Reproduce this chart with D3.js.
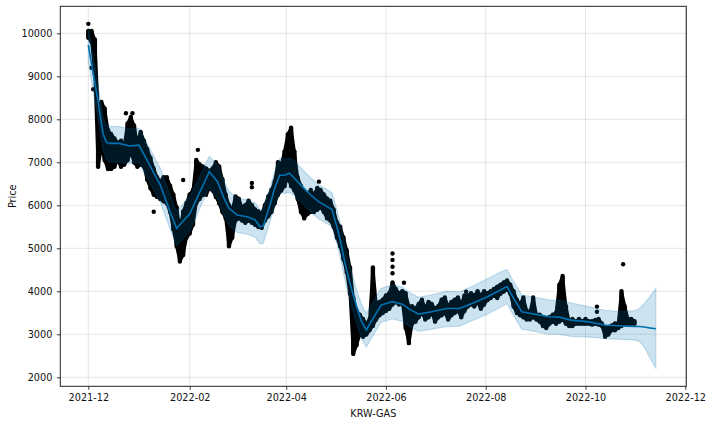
<!DOCTYPE html>
<html><head><meta charset="utf-8">
<script src="https://cdn.jsdelivr.net/npm/d3@7"></script>
<style>html,body{margin:0;padding:0;background:#fff;}svg{display:block;font-family:"DejaVu Sans",sans-serif;}</style>
</head><body>
<svg id="c" width="712" height="424"></svg>
<script>
// observed price ranges (every 2 days): low / high of hourly prices
const obsDate = ["2021-12-01","2021-12-03","2021-12-05","2021-12-07","2021-12-09","2021-12-11","2021-12-13","2021-12-15","2021-12-17","2021-12-19","2021-12-21","2021-12-23","2021-12-25","2021-12-27","2021-12-29","2021-12-31",
"2022-01-02","2022-01-04","2022-01-06","2022-01-08","2022-01-10","2022-01-12","2022-01-14","2022-01-16","2022-01-18","2022-01-20","2022-01-22","2022-01-24","2022-01-26","2022-01-28","2022-01-30",
"2022-02-01","2022-02-03","2022-02-05","2022-02-07","2022-02-09","2022-02-11","2022-02-13","2022-02-15","2022-02-17","2022-02-19","2022-02-21","2022-02-23","2022-02-25","2022-02-27",
"2022-03-01","2022-03-03","2022-03-05","2022-03-07","2022-03-09","2022-03-11","2022-03-13","2022-03-15","2022-03-17","2022-03-19","2022-03-21","2022-03-23","2022-03-25","2022-03-27","2022-03-29","2022-03-31",
"2022-04-02","2022-04-04","2022-04-06","2022-04-08","2022-04-10","2022-04-12","2022-04-14","2022-04-16","2022-04-18","2022-04-20","2022-04-22","2022-04-24","2022-04-26","2022-04-28","2022-04-30",
"2022-05-02","2022-05-04","2022-05-06","2022-05-08","2022-05-10","2022-05-12","2022-05-14","2022-05-16","2022-05-18","2022-05-20","2022-05-22","2022-05-24","2022-05-26","2022-05-28","2022-05-30",
"2022-06-01","2022-06-03","2022-06-05","2022-06-07","2022-06-09","2022-06-11","2022-06-13","2022-06-15","2022-06-17","2022-06-19","2022-06-21","2022-06-23","2022-06-25","2022-06-27","2022-06-29",
"2022-07-01","2022-07-03","2022-07-05","2022-07-07","2022-07-09","2022-07-11","2022-07-13","2022-07-15","2022-07-17","2022-07-19","2022-07-21","2022-07-23","2022-07-25","2022-07-27","2022-07-29","2022-07-31",
"2022-08-02","2022-08-04","2022-08-06","2022-08-08","2022-08-10","2022-08-12","2022-08-14","2022-08-16","2022-08-18","2022-08-20","2022-08-22","2022-08-24","2022-08-26","2022-08-28","2022-08-30",
"2022-09-01","2022-09-03","2022-09-05","2022-09-07","2022-09-09","2022-09-11","2022-09-13","2022-09-15","2022-09-17","2022-09-19","2022-09-21","2022-09-23","2022-09-25","2022-09-27","2022-09-29",
"2022-10-01","2022-10-03","2022-10-05","2022-10-07","2022-10-09","2022-10-11","2022-10-13","2022-10-15","2022-10-17","2022-10-19","2022-10-21","2022-10-23","2022-10-25","2022-10-27","2022-10-29","2022-10-31"];
const obsLow = [9850,9750,9000,6850,7300,7000,6800,6800,6850,7000,6850,6900,7000,7200,6950,6850,
6900,6850,6550,6350,6200,6150,6100,6050,6000,5800,5400,5000,4650,4800,5200,
5300,5500,6000,6100,6200,6200,6350,6300,6150,6000,5800,5650,5000,5200,
5600,5650,5600,5550,5600,5550,5500,5450,5430,5600,5700,5800,6000,6200,6300,6400,
6600,6400,6300,6100,5800,5650,5750,5800,5800,5850,5900,5800,5650,5600,5450,
5200,5000,4700,4400,3900,2500,2700,2950,2900,2950,3050,3150,3300,3400,3450,
3500,3550,3650,3700,3650,3700,3100,2750,3200,3250,3350,3450,3300,3350,3450,
3250,3350,3400,3450,3300,3400,3450,3500,3350,3500,3600,3650,3600,3700,3550,3650,
3750,3800,3850,3800,3900,3950,4000,3900,3600,3450,3400,3350,3300,3300,3350,
3300,3250,3150,3100,3200,3250,3200,3250,3300,3200,3150,3150,3200,3200,3200,
3200,3200,3180,3200,3180,3150,2900,2950,3050,3050,3100,3150,3200,3200,3200,3200];
const obsHigh = [10100,10100,9900,8300,8450,8300,7800,7700,7600,7500,7550,7450,7950,8100,7900,7500,
7750,7550,7350,7150,6900,6700,6600,6700,6700,6500,6300,6000,5500,5900,6100,
6300,6400,7100,7000,6950,6900,6850,6900,7050,6950,6650,6300,6050,5950,
6250,6200,6000,6050,6150,6050,5950,5900,5850,6050,6250,6400,6600,7050,7000,7300,
7700,7850,7300,6700,6500,6350,6300,6400,6300,6450,6400,6300,6200,6150,5950,
5650,5550,5300,5000,4600,3900,3600,3500,3400,3300,3400,4600,3750,3800,3850,
3950,4000,4250,4100,4000,4050,4000,3700,3700,3650,3750,3850,3650,3800,3750,
3650,3700,3850,3900,3700,3800,3850,3900,3750,3950,3950,4000,3950,4050,3950,4050,
4000,4050,4100,4150,4200,4250,4300,4200,4050,3850,3750,3900,3600,3550,3900,
3500,3500,3450,3400,3450,3500,3550,4200,4400,3700,3350,3400,3350,3400,3350,
3400,3350,3350,3380,3400,3300,3200,3200,3250,3300,3300,4050,3700,3400,3400,3350];

// isolated spikes / outliers
const outDate = ["2021-12-01","2021-12-03","2021-12-04","2021-12-24","2021-12-28","2022-01-10","2022-01-28","2022-02-06","2022-03-11","2022-03-11","2022-04-21","2022-06-05","2022-06-05","2022-06-05","2022-06-05","2022-06-12","2022-07-20","2022-10-08","2022-10-08","2022-10-24"];
const outValue = [10220,9200,8700,8140,8140,5850,6590,7290,6520,6420,6550,4880,4730,4570,4420,4200,3990,3645,3525,4630];

// forecast (yhat) and uncertainty interval
const fcDate = ["2021-12-01","2021-12-07","2021-12-10","2021-12-12","2021-12-14","2021-12-20","2021-12-26","2022-01-01","2022-01-14","2022-01-20","2022-01-24","2022-02-01","2022-02-13","2022-02-18","2022-02-22","2022-02-25","2022-03-02","2022-03-08","2022-03-13","2022-03-16","2022-03-18","2022-03-22","2022-03-25","2022-03-28","2022-03-31","2022-04-03","2022-04-06","2022-04-11","2022-04-16","2022-04-21","2022-04-26","2022-04-29","2022-05-02","2022-05-04","2022-05-07","2022-05-10","2022-05-14","2022-05-17","2022-05-20","2022-05-23","2022-05-29","2022-06-05","2022-06-11","2022-06-15","2022-06-21","2022-06-29","2022-07-08","2022-07-16","2022-07-24","2022-08-02","2022-08-10","2022-08-14","2022-08-18","2022-08-23","2022-08-28","2022-09-03","2022-09-09","2022-09-15","2022-09-22","2022-10-02","2022-10-13","2022-10-23","2022-10-31","2022-11-03","2022-11-06","2022-11-09","2022-11-13"];
const yhat =  [9728,8410,7670,7470,7440,7440,7380,7400,6470,5850,5465,5800,6780,6550,6160,5930,5775,5735,5660,5500,5520,6000,6400,6700,6700,6745,6630,6430,6240,6080,5970,5900,5500,5200,4650,4180,3650,3300,3100,3300,3680,3760,3700,3590,3470,3525,3600,3600,3720,3875,4030,4110,3840,3525,3490,3450,3410,3400,3330,3295,3215,3195,3180,3180,3170,3150,3130];
const yLower = [9330,8010,7270,7060,7010,6990,6970,6990,6070,5450,5060,5400,6420,6150,5760,5530,5370,5330,5260,5100,5120,5600,6000,6300,6280,6300,6230,6030,5840,5680,5570,5500,5100,4800,4250,3780,3250,2900,2700,2900,3280,3360,3300,3190,3070,3120,3180,3190,3320,3470,3630,3710,3440,3120,3090,3040,3000,3000,2950,2940,2900,2880,2870,2830,2700,2480,2210];
const yUpper = [10120,8800,8060,7860,7840,7830,7780,7790,6870,6250,5860,6200,7140,6940,6560,6330,6170,6130,6060,5900,5920,6400,6790,7090,7080,7100,7030,6830,6640,6480,6370,6290,5890,5600,5050,4580,4040,3700,3490,3690,4070,4150,4100,3980,3860,3920,4000,3990,4120,4290,4450,4510,4230,3920,3880,3840,3800,3790,3730,3650,3560,3530,3550,3600,3720,3860,4070];

// axis ticks
const xTickLabels = ["2021-12","2022-02","2022-04","2022-06","2022-08","2022-10","2022-12"];
const yTickValues = [2000,3000,4000,5000,6000,7000,8000,9000,10000];
const xLabel = "KRW-GAS";
const yLabel = "Price";

const parse = d3.utcParse("%Y-%m-%d");
const parseM = d3.utcParse("%Y-%m");
const L = 60.3, R = 686.3, T = 6.3, B = 386.3;
const FS = 9.7;

const x = d3.scaleUtc()
  .domain([new Date(Date.UTC(2021,10,13,21)), new Date(Date.UTC(2022,11,1,15))])
  .range([L, R]);
const y = d3.scaleLinear().domain([1791, 10628]).range([B, T]);

const svg = d3.select("#c");
svg.append("rect").attr("width",712).attr("height",424).attr("fill","#fff");

const xTicks = xTickLabels.map(s => parseM(s));

// grid
const grid = svg.append("g").attr("stroke","rgba(128,128,128,0.2)").attr("stroke-width",1);
grid.selectAll("line.gx").data(xTicks).join("line")
  .attr("x1",d=>x(d)).attr("x2",d=>x(d)).attr("y1",T).attr("y2",B);
grid.selectAll("line.gy").data(yTickValues).join("line")
  .attr("x1",L).attr("x2",R).attr("y1",d=>y(d)).attr("y2",d=>y(d));

// observed data (dense hourly dots): linear range fill + dot-width columns
const obs = obsDate.map((d,i)=>({t:parse(d), lo:obsLow[i], hi:obsHigh[i]}));
const dy = 45; // shrink by dot radius in data units
svg.append("path").datum(obs)
  .attr("fill","#000").attr("stroke","#000").attr("stroke-width",3)
  .attr("stroke-linejoin","round")
  .attr("d", d3.area().x(d=>x(d.t)).y0(d=>y(d.lo+dy)).y1(d=>y(d.hi-dy)));
svg.append("g").attr("stroke","#000").attr("stroke-width",4.4).attr("stroke-linecap","round")
  .selectAll("line").data(obs).join("line")
  .attr("x1",d=>x(d.t)).attr("x2",d=>x(d.t))
  .attr("y1",d=>y(d.lo+dy)).attr("y2",d=>y(d.hi-dy));
svg.append("g").attr("fill","#000")
  .selectAll("circle").data(outDate.map((d,i)=>({t:parse(d), v:outValue[i]}))).join("circle")
  .attr("cx",d=>x(d.t)).attr("cy",d=>y(d.v)).attr("r",2.2);

// forecast line
const fc = fcDate.map((d,i)=>({t:parse(d), yh:yhat[i], lo:yLower[i], hi:yUpper[i]}));
svg.append("path").datum(fc)
  .attr("fill","none").attr("stroke","#0072B2").attr("stroke-width",1.6)
  .attr("d", d3.line().x(d=>x(d.t)).y(d=>y(d.yh)));

// uncertainty band
svg.append("path").datum(fc)
  .attr("fill","rgba(0,114,178,0.2)").attr("stroke","rgba(0,114,178,0.2)").attr("stroke-width",1.2)
  .attr("d", d3.area().x(d=>x(d.t)).y0(d=>y(d.lo)).y1(d=>y(d.hi)));

// frame
svg.append("rect").attr("x",L).attr("y",T).attr("width",R-L).attr("height",B-T)
  .attr("fill","none").attr("stroke","#222").attr("stroke-width",1);

// axes
const xAxis = d3.axisBottom(x).tickValues(xTicks).tickSize(3.5).tickPadding(4)
  .tickFormat(d3.utcFormat("%Y-%m"));
const gx = svg.append("g").attr("transform",`translate(0,${B})`).call(xAxis);
gx.select(".domain").remove();
gx.selectAll("text").attr("font-size",FS).attr("font-family","DejaVu Sans").attr("fill","#111");
gx.selectAll("line").attr("stroke","#222").attr("stroke-width",0.9);

const yAxis = d3.axisLeft(y).tickValues(yTickValues).tickSize(3.5).tickPadding(4.5).tickFormat(d3.format("d"));
const gy = svg.append("g").attr("transform",`translate(${L},0)`).call(yAxis);
gy.select(".domain").remove();
gy.selectAll("text").attr("font-size",FS).attr("font-family","DejaVu Sans").attr("fill","#111");
gy.selectAll("line").attr("stroke","#222").attr("stroke-width",0.9);

svg.append("text").attr("x",(L+R)/2).attr("y",416.5).attr("text-anchor","middle")
  .attr("font-size",FS).attr("fill","#111").text(xLabel);
svg.append("text").attr("transform",`translate(16,${(T+B)/2}) rotate(-90)`).attr("text-anchor","middle")
  .attr("font-size",FS).attr("fill","#111").text(yLabel);
</script>
</body></html>
